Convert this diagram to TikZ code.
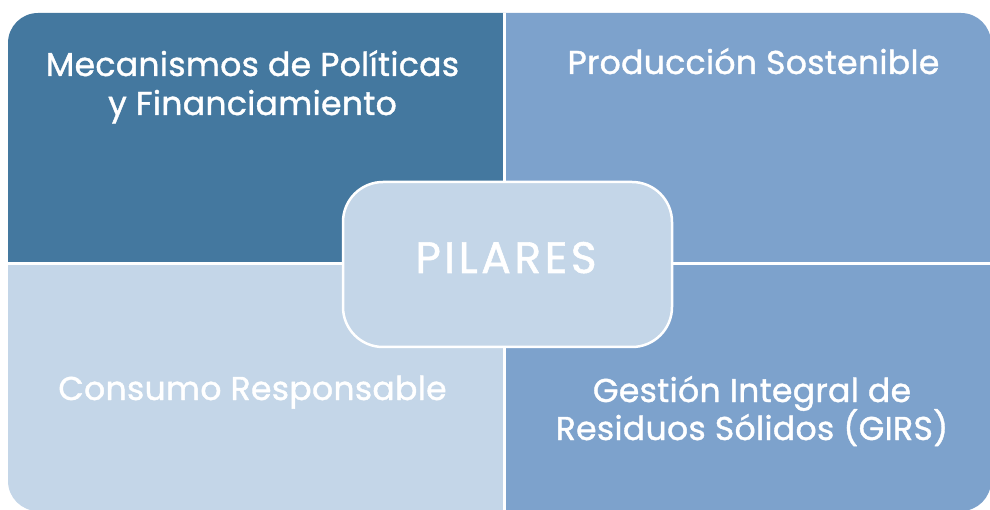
\documentclass[tikz,border=0pt]{standalone}
\usepackage{fontspec}
\setmainfont{Poppins}[FakeBold=1.2]
\definecolor{cTL}{HTML}{44789F}
\definecolor{cMid}{HTML}{7DA2CC}
\definecolor{cLight}{HTML}{C4D6E8}
\begin{document}
\begin{tikzpicture}[x=1pt,y=-1pt,
  lbl/.style={text=white,font=\fontsize{33}{39}\selectfont\addfontfeature{LetterSpace=1},inner sep=0pt,anchor=base},
  big/.style={text=white,font=\fontsize{44}{50}\selectfont\addfontfeature{LetterSpace=8},inner sep=0pt,anchor=base}]
\useasboundingbox (0,0) rectangle (990,510);
\begin{scope}
\clip[rounded corners=30pt] (8,13) rectangle (991,511);
\fill[cTL] (0,0) rectangle (504,264);
\fill[cMid] (504,0) rectangle (995,264);
\fill[cLight] (0,264) rectangle (504,515);
\fill[cMid] (504,264) rectangle (995,515);
\draw[white,line width=3pt] (504,0) -- (504,515);
\draw[white,line width=3pt] (0,264) -- (995,264);
\end{scope}
\node[draw=white,line width=2.5pt,fill=cLight,rounded corners=40pt,minimum width=329pt,minimum height=165pt] (ctr) at (507.5,264.5) {};
\node[big] (pil) at (506,273) {PILARES};
\node[lbl] (tl1) at (252.5,76) {Mecanismos de Políticas};
\node[lbl] (tl2) at (252.5,115) {y Financiamiento};
\node[lbl] (tr1) at (753.5,74) {Producción Sostenible};
\node[lbl] (bl1) at (252.5,400) {Consumo Responsable};
\node[lbl] (br1) at (752,402) {Gestión Integral de};
\node[lbl] (br2) at (752,440) {Residuos Sólidos (GIRS)};
\end{tikzpicture}
\end{document}
